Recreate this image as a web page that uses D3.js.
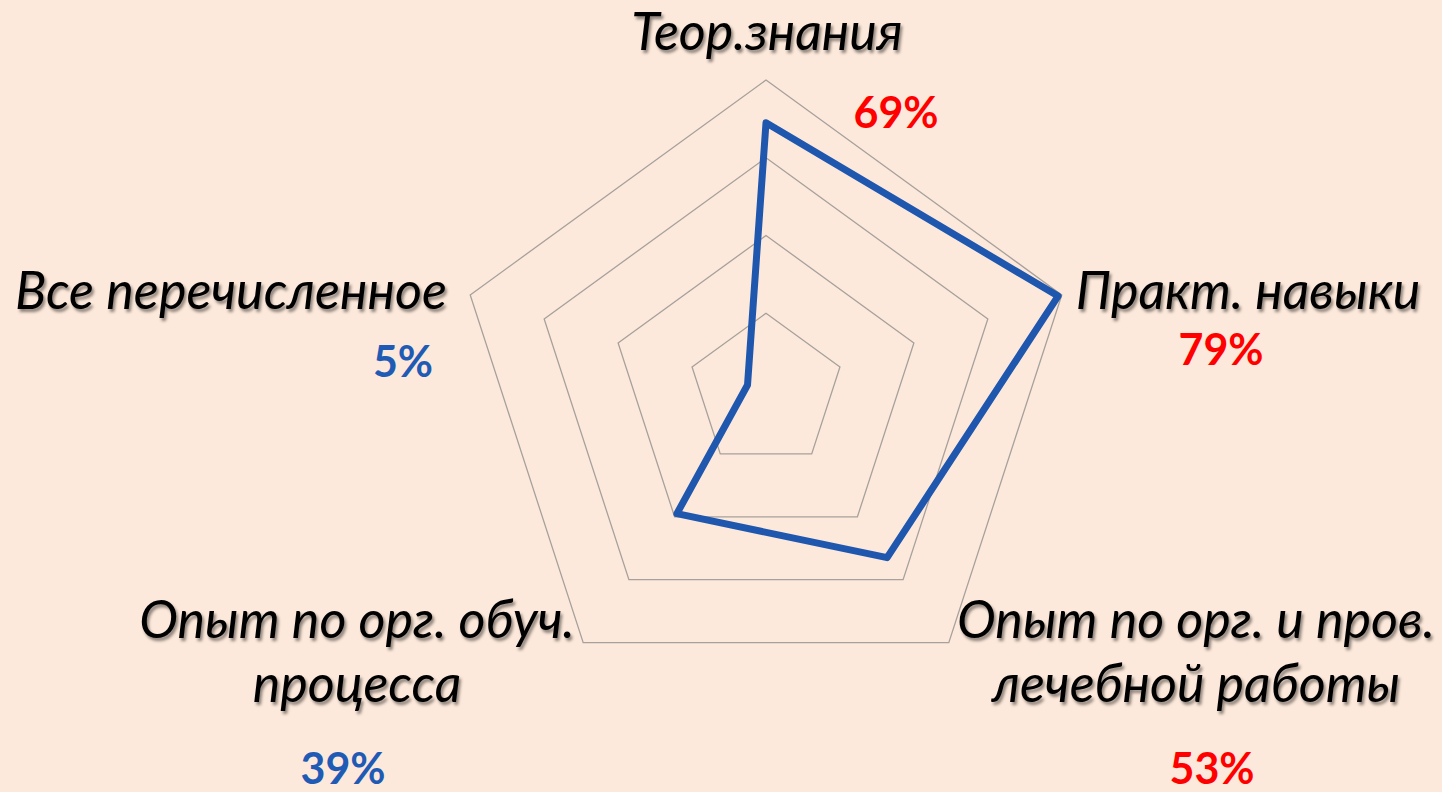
<!DOCTYPE html>
<html>
<head>
<meta charset="utf-8">
<script src="https://cdn.jsdelivr.net/npm/d3@7"></script>
<style>
    html, body { margin: 0; padding: 0; background: #fde9db; overflow: hidden; }
    svg { display: block; }
</style>
</head>
<body>
<svg id="chart" width="1442" height="792"></svg>
<script>
// chart data
const categories = ["Теор.знания", "Практ. навыки", "Опыт по орг. и пров. лечебной работы", "Опыт по орг. обуч. процесса", "Все перечисленное"];
const values = [0.69, 0.79, 0.53, 0.39, 0.05];
const valueLabels = ["69%", "79%", "53%", "39%", "5%"];
const gridLevels = [0.2, 0.4, 0.6, 0.8];

// label layout (line lists and anchor spots), kept apart from the data
const labelLines = [["Теор.знания"], ["Практ. навыки"], ["Опыт по орг. и пров.", "лечебной работы"], ["Опыт по орг. обуч.", "процесса"], ["Все перечисленное"]];
const labelPos = [
    {x: 767, y: 50},
    {x: 1248, y: 309},
    {x: 1196, y: 638},
    {x: 357, y: 638},
    {x: 231, y: 309}
];
const valuePos = [
    {x: 896, y: 128},
    {x: 1221, y: 365},
    {x: 1212, y: 784},
    {x: 343, y: 784},
    {x: 403, y: 377}
];
const valueColors = ["#ff0000", "#ff0000", "#ff0000", "#1f5bb5", "#1f5bb5"];

let svg = d3.select("#chart");
let cx = 766, cy = 391, R = 311;

let defs = svg.append("defs");
let shadow = defs.append("filter").attr("id", "shadow")
    .attr("x", "-10%").attr("y", "-30%").attr("width", "120%").attr("height", "160%");
shadow.append("feDropShadow")
    .attr("dx", 2).attr("dy", 3).attr("stdDeviation", 1.6)
    .attr("flood-color", "#000").attr("flood-opacity", 0.45);

let r = d3.scaleLinear().domain([0, 0.8]).range([0, R]);
let angle = d3.scaleLinear().domain([0, categories.length]).range([0, 2 * Math.PI]);

let g = svg.append("g").attr("transform", "translate(" + cx + "," + cy + ")");

// grid pentagons
let ring = d3.lineRadial()
    .angle((d, i) => angle(i))
    .radius(d => r(d))
    .curve(d3.curveLinearClosed);

g.selectAll(".grid")
    .data(gridLevels)
    .enter().append("path")
    .attr("class", "grid")
    .attr("d", lvl => ring(categories.map(() => lvl)))
    .attr("fill", "none")
    .attr("stroke", "#a6a19c")
    .attr("stroke-width", 1.3);

// data line
g.append("path")
    .datum(values)
    .attr("d", ring)
    .attr("fill", "none")
    .attr("stroke", "#1f57ae")
    .attr("stroke-width", 7)
    .attr("stroke-linejoin", "round");

// category labels
let labels = svg.selectAll(".cat")
    .data(categories)
    .enter().append("text")
    .attr("class", "cat")
    .attr("x", (d, i) => labelPos[i].x)
    .attr("y", (d, i) => labelPos[i].y)
    .attr("text-anchor", "middle")
    .attr("filter", "url(#shadow)")
    .style("font-family", "Lato, 'Open Sans', sans-serif")
    .style("font-style", "italic")
    .style("font-size", "52px")
    .attr("fill", "#000");

labels.selectAll("tspan")
    .data((d, i) => labelLines[i].map(t => ({t: t, x: labelPos[i].x})))
    .enter().append("tspan")
    .attr("x", d => d.x)
    .attr("dy", (d, j) => j === 0 ? 0 : 64)
    .text(d => d.t);

// value labels
svg.selectAll(".val")
    .data(valueLabels)
    .enter().append("text")
    .attr("class", "val")
    .attr("x", (d, i) => valuePos[i].x)
    .attr("y", (d, i) => valuePos[i].y)
    .attr("text-anchor", "middle")
    .style("font-family", "Lato, 'Open Sans', sans-serif")
    .style("font-weight", "bold")
    .style("font-size", "43px")
    .attr("fill", (d, i) => valueColors[i])
    .text(d => d);
</script>
</body>
</html>
